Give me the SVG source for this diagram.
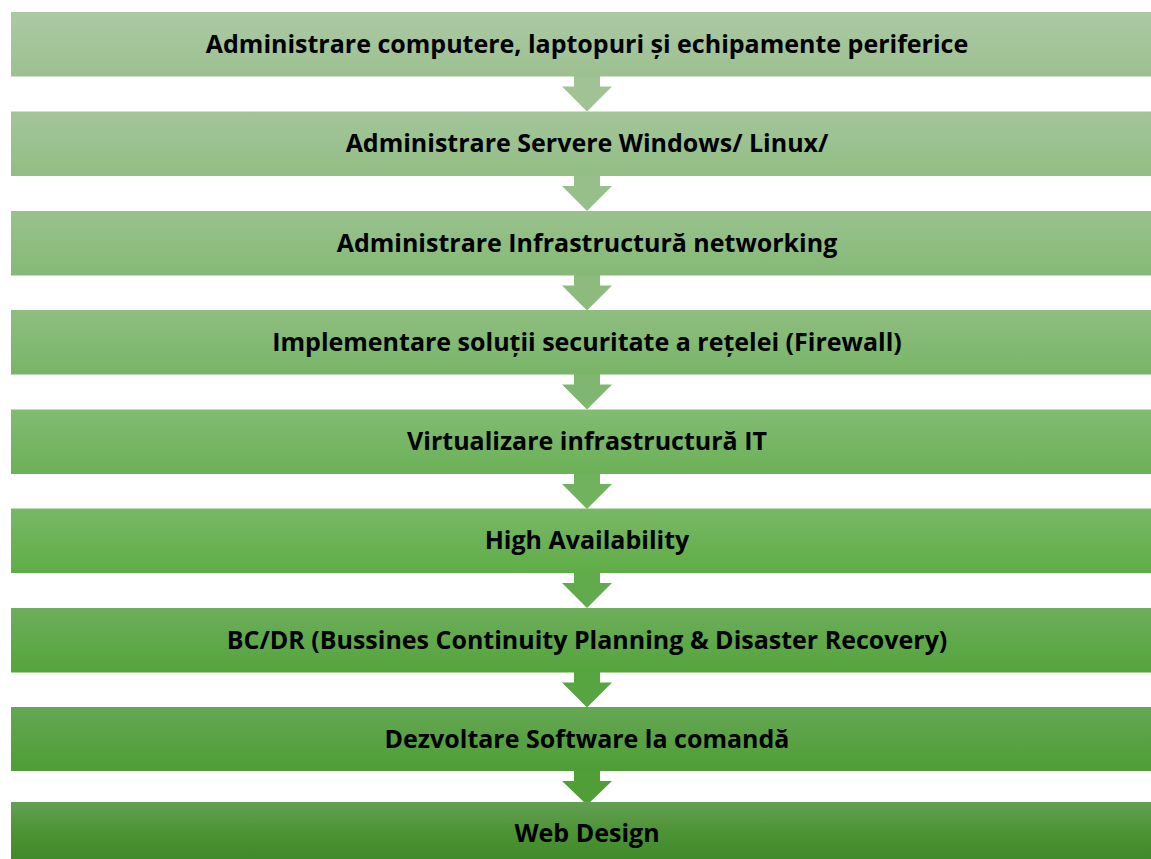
<svg xmlns="http://www.w3.org/2000/svg" width="1151" height="859" viewBox="0 0 1151 859">
<defs>
<linearGradient id="g1" x1="0" y1="0" x2="0" y2="1"><stop offset="0" stop-color="#acc9a4"/><stop offset="1" stop-color="#9cc090"/></linearGradient>
<linearGradient id="g2" x1="0" y1="0" x2="0" y2="1"><stop offset="0" stop-color="#a3c699"/><stop offset="1" stop-color="#92bd84"/></linearGradient>
<linearGradient id="g3" x1="0" y1="0" x2="0" y2="1"><stop offset="0" stop-color="#99c28d"/><stop offset="1" stop-color="#85b976"/></linearGradient>
<linearGradient id="g4" x1="0" y1="0" x2="0" y2="1"><stop offset="0" stop-color="#8fbe80"/><stop offset="1" stop-color="#78b567"/></linearGradient>
<linearGradient id="g5" x1="0" y1="0" x2="0" y2="1"><stop offset="0" stop-color="#83bb73"/><stop offset="1" stop-color="#6bb157"/></linearGradient>
<linearGradient id="g6" x1="0" y1="0" x2="0" y2="1"><stop offset="0" stop-color="#78b866"/><stop offset="1" stop-color="#5fad47"/></linearGradient>
<linearGradient id="g7" x1="0" y1="0" x2="0" y2="1"><stop offset="0" stop-color="#6dae5c"/><stop offset="1" stop-color="#54a43b"/></linearGradient>
<linearGradient id="g8" x1="0" y1="0" x2="0" y2="1"><stop offset="0" stop-color="#65a753"/><stop offset="1" stop-color="#4e9d36"/></linearGradient>
<linearGradient id="g9" x1="0" y1="0" x2="0" y2="1"><stop offset="0" stop-color="#64a055"/><stop offset="0.5" stop-color="#4d9435"/><stop offset="1" stop-color="#3f8a2a"/></linearGradient>
</defs>
<style>
.box{stroke:none}
.lbl{font-family:"Open Sans","Liberation Sans",sans-serif;font-weight:bold;font-size:25px;fill:#000;text-anchor:middle}
</style>
<rect width="1151" height="859" fill="#ffffff"/>
<g id="connectors">
<polygon points="574,76 600,76 600,86.5 612,86.5 587,111.5 562,86.5 574,86.5" fill="#a0c295"/>
<polygon points="574,175.5 600,175.5 600,186 612,186 587,211 562,186 574,186" fill="#97bf8a"/>
<polygon points="574,275 600,275 600,285.5 612,285.5 587,310.5 562,285.5 574,285.5" fill="#8dbb7e"/>
<polygon points="574,374 600,374 600,384.5 612,384.5 587,409.5 562,384.5 574,384.5" fill="#80b770"/>
<polygon points="574,473.5 600,473.5 600,484 612,484 587,509 562,484 574,484" fill="#71b25e"/>
<polygon points="574,572.5 600,572.5 600,583 612,583 587,608 562,583 574,583" fill="#62ab4c"/>
<polygon points="574,672 600,672 600,682.5 612,682.5 587,707.5 562,682.5 574,682.5" fill="#57a540"/>
<polygon points="574,771 600,771 600,781 612,781 587,805 562,781 574,781" fill="#4f9e36"/>
</g>
<g id="n1"><rect class="box" x="11" y="12" width="1140" height="64.5" fill="url(#g1)"/><text class="lbl" x="587" y="52.5">Administrare computere, laptopuri și echipamente periferice</text></g>
<g id="n2"><rect class="box" x="11" y="111.5" width="1140" height="64.5" fill="url(#g2)"/><text class="lbl" x="587" y="152">Administrare Servere Windows/ Linux/</text></g>
<g id="n3"><rect class="box" x="11" y="211" width="1140" height="64.5" fill="url(#g3)"/><text class="lbl" x="587" y="251.5">Administrare Infrastructură networking</text></g>
<g id="n4"><rect class="box" x="11" y="310" width="1140" height="64.5" fill="url(#g4)"/><text class="lbl" x="587" y="350.5">Implementare soluții securitate a rețelei (Firewall)</text></g>
<g id="n5"><rect class="box" x="11" y="409.5" width="1140" height="64.5" fill="url(#g5)"/><text class="lbl" x="587" y="450">Virtualizare infrastructură IT</text></g>
<g id="n6"><rect class="box" x="11" y="508.5" width="1140" height="64.5" fill="url(#g6)"/><text class="lbl" x="587" y="549">High Availability</text></g>
<g id="n7"><rect class="box" x="11" y="608" width="1140" height="64.5" fill="url(#g7)"/><text class="lbl" x="587" y="648.5">BC/DR (Bussines Continuity Planning &amp; Disaster Recovery)</text></g>
<g id="n8"><rect class="box" x="11" y="707" width="1140" height="64" fill="url(#g8)"/><text class="lbl" x="587" y="747.5">Dezvoltare Software la comandă</text></g>
<g id="n9"><rect class="box" x="11" y="802" width="1140" height="57" fill="url(#g9)"/><text class="lbl" x="587" y="841.5">Web Design</text></g>
</svg>
